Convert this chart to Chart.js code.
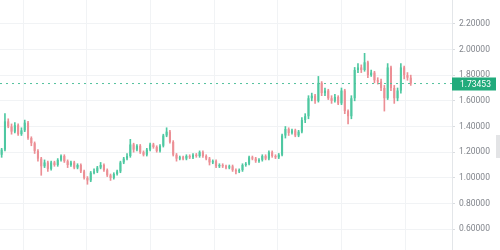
<!DOCTYPE html>
<html>
<head>
<meta charset="utf-8">
<script src="https://cdn.jsdelivr.net/npm/chart.js@4.4.1/dist/chart.umd.min.js"></script>
<style>
  html, body { margin: 0; padding: 0; background: #fff; overflow: hidden; }
  #wrap { position: absolute; left: 0; top: -11px; width: 500px; height: 275px; }
  #handle { position: absolute; right: 0; top: 135px; width: 4px; height: 23px; background: #e3e4e6; }
</style>
</head>
<body>
<div id="wrap"><canvas id="myChart"></canvas></div>
<div id="handle"></div>
<script>
// 数据 (open / high / low / close)
var opens = [
  1.18,1.22,1.44,1.40,1.36,1.41,1.34,1.37,1.43,1.31,
  1.27,1.21,1.15,1.09,1.12,1.07,1.12,1.10,1.14,1.17,
  1.13,1.10,1.12,1.08,1.10,1.05,1.00,0.98,1.04,1.05,
  1.08,1.10,1.06,1.02,1.00,1.03,1.05,1.12,1.15,1.17,
  1.26,1.22,1.25,1.20,1.18,1.22,1.26,1.24,1.21,1.25,
  1.33,1.36,1.28,1.18,1.15,1.16,1.15,1.17,1.16,1.18,
  1.17,1.20,1.17,1.15,1.12,1.13,1.09,1.10,1.09,1.08,
  1.09,1.06,1.05,1.06,1.10,1.11,1.16,1.15,1.13,1.14,
  1.17,1.15,1.20,1.17,1.16,1.18,1.33,1.38,1.35,1.37,
  1.33,1.36,1.45,1.48,1.62,1.64,1.60,1.74,1.66,1.68,
  1.62,1.60,1.63,1.58,1.68,1.52,1.48,1.62,1.84,1.86,
  1.84,1.90,1.80,1.82,1.76,1.75,1.70,1.62,1.86,1.70,
  1.62,1.68,1.86,1.80,1.78
];
var highs = [
  1.23,1.50,1.46,1.42,1.43,1.42,1.39,1.45,1.44,1.32,
  1.28,1.22,1.16,1.14,1.13,1.13,1.13,1.15,1.18,1.18,
  1.14,1.13,1.13,1.11,1.11,1.06,1.01,1.05,1.07,1.09,
  1.12,1.11,1.07,1.03,1.04,1.06,1.13,1.16,1.19,1.30,
  1.27,1.26,1.26,1.21,1.23,1.27,1.27,1.25,1.26,1.34,
  1.39,1.37,1.29,1.19,1.17,1.17,1.18,1.18,1.19,1.19,
  1.21,1.21,1.18,1.16,1.14,1.14,1.11,1.11,1.10,1.10,
  1.10,1.07,1.07,1.11,1.12,1.17,1.17,1.16,1.15,1.18,
  1.18,1.21,1.21,1.18,1.19,1.34,1.40,1.39,1.38,1.38,
  1.37,1.47,1.50,1.64,1.66,1.65,1.79,1.75,1.70,1.69,
  1.64,1.65,1.64,1.70,1.69,1.53,1.64,1.86,1.89,1.88,
  1.97,1.91,1.84,1.83,1.78,1.77,1.72,1.89,1.87,1.72,
  1.70,1.89,1.87,1.82,1.80
];
var lows = [
  1.16,1.21,1.39,1.34,1.35,1.33,1.33,1.36,1.30,1.25,
  1.19,1.13,1.02,1.08,1.05,1.06,1.09,1.09,1.13,1.12,
  1.08,1.09,1.07,1.07,1.04,0.99,0.95,0.97,1.03,1.04,
  1.07,1.05,1.01,0.98,0.99,1.02,1.04,1.11,1.14,1.16,
  1.20,1.21,1.19,1.17,1.17,1.21,1.23,1.20,1.20,1.24,
  1.32,1.27,1.17,1.13,1.14,1.14,1.14,1.15,1.15,1.16,
  1.16,1.16,1.14,1.10,1.11,1.08,1.08,1.08,1.07,1.07,
  1.05,1.03,1.04,1.05,1.09,1.10,1.14,1.12,1.12,1.13,
  1.14,1.14,1.16,1.15,1.15,1.17,1.31,1.33,1.34,1.32,
  1.32,1.35,1.43,1.46,1.60,1.58,1.59,1.64,1.64,1.61,
  1.58,1.59,1.57,1.57,1.50,1.42,1.46,1.60,1.82,1.82,
  1.83,1.78,1.79,1.74,1.73,1.68,1.52,1.61,1.68,1.58,
  1.60,1.66,1.77,1.76,1.72
];
var closes = [
  1.22,1.44,1.40,1.36,1.41,1.34,1.37,1.43,1.31,1.27,
  1.21,1.15,1.09,1.12,1.07,1.12,1.10,1.14,1.17,1.13,
  1.10,1.12,1.08,1.10,1.05,1.00,0.98,1.04,1.05,1.08,
  1.10,1.06,1.02,1.00,1.03,1.05,1.12,1.15,1.17,1.26,
  1.22,1.25,1.20,1.18,1.22,1.26,1.24,1.21,1.25,1.33,
  1.36,1.28,1.18,1.15,1.16,1.15,1.17,1.16,1.18,1.17,
  1.20,1.17,1.15,1.12,1.13,1.09,1.10,1.09,1.08,1.09,
  1.06,1.05,1.06,1.10,1.11,1.16,1.15,1.13,1.14,1.17,
  1.15,1.20,1.17,1.16,1.18,1.33,1.38,1.35,1.37,1.33,
  1.36,1.45,1.48,1.62,1.64,1.60,1.74,1.66,1.68,1.62,
  1.60,1.63,1.58,1.68,1.52,1.48,1.62,1.84,1.86,1.84,
  1.90,1.80,1.82,1.76,1.75,1.70,1.62,1.86,1.70,1.62,
  1.68,1.86,1.80,1.78,1.73453
];
// 价格刻度
var priceTicks = [0.4, 0.6, 0.8, 1.0, 1.2, 1.4, 1.6, 1.8, 2.0, 2.2, 2.4];
// 时间网格线 (K线序号)
var timeGrid = [6.5, 25.8, 45.1, 64.4, 83.7, 103, 122.3];
var lastPrice = 1.73453;

var upColor = '#4ec8a1';
var downColor = '#ec8f95';

//数据整合
var wickData = [];
var bodyData = [];
var colors = [];
for (var i = 0; i < closes.length; i++) {
    wickData.push({x: i, y: [lows[i], highs[i]]});
    bodyData.push({x: i, y: [opens[i], closes[i]]});
    colors.push(closes[i] >= opens[i] ? upColor : downColor);
}

// 最新价标签
var priceTag = {
    id: 'priceTag',
    afterDraw: function (chart) {
        var ctx = chart.ctx;
        var y = chart.scales.y.getPixelForValue(lastPrice);
        var left = chart.chartArea.right;
        ctx.save();
        ctx.fillStyle = '#21ab7c';
        ctx.fillRect(left, Math.round(y) - 6.5, 44, 13);
        ctx.fillStyle = '#ffffff';
        ctx.font = '8.5px Roboto';
        ctx.textBaseline = 'middle';
        ctx.fillText(lastPrice.toFixed(5), left + 8, Math.round(y) + 0.5);
        ctx.restore();
    }
};

var ctx = document.getElementById("myChart").getContext("2d");
var myChart = new Chart(ctx, {
    type: 'bar',
    data: {
        datasets: [
            {
                type: 'line',
                data: [{x: -0.5, y: lastPrice}, {x: 136.5, y: lastPrice}],
                borderColor: '#52c29c',
                borderWidth: 1,
                borderDash: [2, 4],
                pointRadius: 0
            },
            {
                data: wickData,
                backgroundColor: colors,
                barThickness: 1,
                grouped: false
            },
            {
                data: bodyData,
                backgroundColor: colors,
                categoryPercentage: 1,
                barPercentage: 0.62,
                grouped: false
            }
        ]
    },
    plugins: [priceTag],
    options: {
        responsive: true,
        maintainAspectRatio: false,
        animation: false,
        layout: { padding: 0 },
        plugins: {
            legend: { display: false },
            tooltip: { enabled: false }
        },
        scales: {
            x: {
                type: 'linear',
                offset: false,
                min: -0.5,
                max: 136.5,
                afterBuildTicks: function (scale) {
                    scale.ticks = timeGrid.map(function (v) { return {value: v}; });
                },
                ticks: { display: false },
                grid: { color: '#f1f3f5', drawTicks: false, offset: false },
                border: { display: false }
            },
            y: {
                position: 'right',
                min: 0.4,
                max: 2.4,
                afterBuildTicks: function (scale) {
                    scale.ticks = priceTicks.map(function (v) { return {value: v}; });
                },
                afterFit: function (scale) { scale.width = 48; },
                ticks: {
                    color: '#80848b',
                    padding: 4,
                    crossAlign: 'near',
                    font: { family: 'Roboto', size: 8.5 },
                    callback: function (v) { return Number(v).toFixed(5); }
                },
                grid: { color: '#f1f3f5', tickLength: 3, tickColor: '#d9dce0' },
                border: { display: true, color: '#e3e6e9' }
            }
        }
    }
});
</script>
</body>
</html>
